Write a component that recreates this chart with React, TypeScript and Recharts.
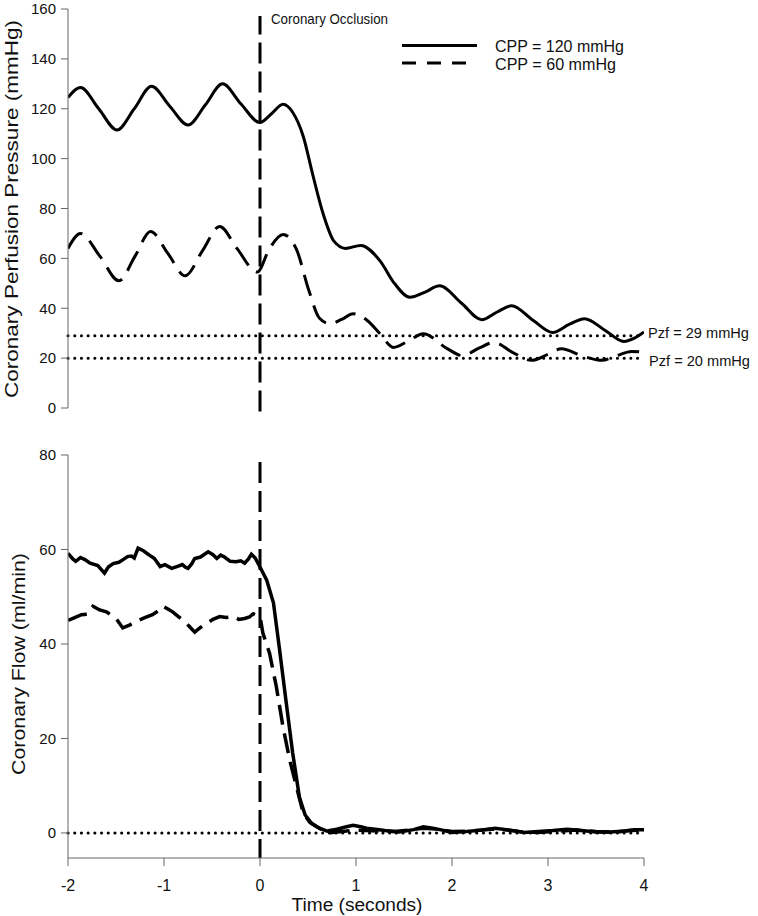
import { LineChart, Line, XAxis, YAxis, ReferenceLine } from 'recharts';

// top panel: coronary perfusion pressure (mmHg)
const cpp120Time = [-2, -1.87, -1.68, -1.49, -1.31, -1.13, -0.94, -0.75, -0.57, -0.39, -0.2, 0, 0.12, 0.24, 0.34, 0.45, 0.55, 0.66, 0.77, 0.89, 1.05, 1.25, 1.4, 1.56, 1.72, 1.87, 2.1, 2.31, 2.47, 2.62, 2.85, 3.05, 3.22, 3.38, 3.6, 3.79, 3.9, 4];
const cpp120Pressure = [124.5, 128.5, 120, 111.5, 120, 129, 121, 113.5, 121.5, 130, 122, 114.5, 118, 121.8, 118.6, 109, 93.5, 77.6, 66.9, 64, 65.2, 59, 50, 44.4, 46.5, 49, 42, 35.4, 38.5, 41, 35, 30.3, 33.5, 35.8, 31, 26.7, 28, 30.5];

const cpp60Time = [-2, -1.87, -1.67, -1.47, -1.3, -1.14, -0.96, -0.78, -0.6, -0.42, -0.24, -0.03, 0.1, 0.24, 0.38, 0.51, 0.62, 0.73, 0.85, 0.97, 1.12, 1.25, 1.39, 1.55, 1.7, 1.95, 2.11, 2.28, 2.44, 2.63, 2.83, 3, 3.14, 3.35, 3.56, 3.72, 3.87, 4];
const cpp60Pressure = [64, 70, 61, 51, 61, 70.8, 62, 53, 63, 72.8, 64, 54.5, 64, 69.6, 63.6, 47, 36, 33.8, 35.5, 37.8, 35, 29.8, 24.3, 27, 29.8, 23.8, 21, 24, 26.3, 22.3, 19.1, 21.5, 23.8, 21, 19.1, 21, 22.7, 22.3];

// bottom panel: coronary flow (ml/min)
const flow120Time = [-2, -1.95, -1.92, -1.87, -1.82, -1.77, -1.69, -1.62, -1.58, -1.53, -1.47, -1.43, -1.38, -1.34, -1.31, -1.27, -1.22, -1.18, -1.13, -1.1, -1.04, -0.99, -0.92, -0.85, -0.81, -0.78, -0.75, -0.71, -0.68, -0.62, -0.54, -0.49, -0.45, -0.41, -0.37, -0.31, -0.25, -0.2, -0.16, -0.12, -0.09, -0.05, 0, 0.07, 0.14, 0.2, 0.27, 0.34, 0.41, 0.47, 0.54, 0.62, 0.7, 0.8, 0.9, 0.97, 1.05, 1.11, 1.2, 1.3, 1.45, 1.6, 1.7, 1.8, 1.9, 2, 2.15, 2.3, 2.45, 2.6, 2.75, 2.9, 3.05, 3.2, 3.35, 3.5, 3.65, 3.8, 3.9, 4];
const flow120Value = [59.2, 58, 57.5, 58.3, 57.8, 57.1, 56.6, 55, 56.3, 57, 57.3, 57.8, 58.5, 58.6, 58.2, 60.3, 59.8, 59.2, 58.5, 58.1, 56.4, 56.8, 56, 56.5, 56.8, 56.3, 56, 57, 58.1, 58.4, 59.5, 58.9, 58.1, 58.8, 58.4, 57.5, 57.4, 57.6, 57.1, 58, 59, 58.2, 56.3, 53.5, 48.7, 39.4, 28.1, 17, 7.6, 3.8, 2, 1, 0.4, 0.8, 1.3, 1.6, 1.3, 1, 0.8, 0.5, 0.2, 0.7, 1.3, 1, 0.6, 0.1, 0.3, 0.6, 1, 0.6, 0.1, 0.3, 0.5, 0.8, 0.5, 0.2, 0.2, 0.4, 0.7, 0.7];

const flow60Time = [-2, -1.93, -1.86, -1.8, -1.74, -1.67, -1.6, -1.5, -1.43, -1.36, -1.29, -1.2, -1.12, -1.06, -1.01, -0.96, -0.91, -0.85, -0.8, -0.74, -0.68, -0.62, -0.56, -0.49, -0.42, -0.35, -0.28, -0.22, -0.16, -0.11, -0.07, -0.03, 0, 0.03, 0.1, 0.17, 0.24, 0.31, 0.38, 0.45, 0.52, 0.59, 0.66, 0.72, 0.8, 0.9, 0.97, 1.1, 1.25, 1.4, 1.55, 1.7, 1.85, 2, 2.2, 2.4, 2.55, 2.7, 2.9, 3.1, 3.3, 3.5, 3.7, 3.85, 4];
const flow60Value = [45, 45.6, 46.2, 46.3, 48, 47.2, 46.8, 45.4, 43.4, 44, 44.8, 45.6, 46.2, 47, 48, 47.4, 46.8, 45.8, 45, 43.8, 42.5, 43.5, 44.3, 45.2, 45.8, 45.6, 45.8, 45.2, 45.4, 45.7, 46.4, 46, 45.8, 42.3, 38, 31, 22.4, 15.4, 9.8, 4.2, 2.2, 1.3, 0.5, 0, 0.2, 0.4, 0.6, 0.5, 0.4, 0.3, 0.6, 1, 0.8, 0.3, 0.4, 0.8, 0.7, 0.3, 0.1, 0.4, 0.6, 0.3, 0.2, 0.5, 0.6];

const timeTicks = [-2, -1, 0, 1, 2, 3, 4];
const pressureTicks = [0, 20, 40, 60, 80, 100, 120, 140, 160];
const flowTicks = [0, 20, 40, 60, 80];
const zeroFlowPressures = [29, 20];

const toPoints = (ts: number[], vs: number[]) => ts.map((t, i) => ({ t, v: vs[i] }));

const cpp120Data = toPoints(cpp120Time, cpp120Pressure);
const cpp60Data = toPoints(cpp60Time, cpp60Pressure);
const flow120Data = toPoints(flow120Time, flow120Value);
const flow60Data = toPoints(flow60Time, flow60Value);

const axisGrey = '#666';
const tickStyle = { fontSize: 15, fill: '#111' };
const dotted = { stroke: '#000', strokeWidth: 3, strokeDasharray: '0.1 6.6', strokeLinecap: 'round' as const };
const occlusion = { stroke: '#000', strokeWidth: 3, strokeDasharray: '21 8' };

export default function App() {
  return (
    <div
      style={{
        position: 'absolute',
        left: 0,
        top: 0,
        width: 758,
        height: 916,
        background: '#fff',
        fontFamily: 'Arial, "Liberation Sans", sans-serif',
      }}
    >
      <div style={{ position: 'absolute', left: 0, top: 0 }}>
        <LineChart width={758} height={416} margin={{ top: 9, right: 114, bottom: 8, left: 8 }}>
          <XAxis dataKey="t" type="number" domain={[-2, 4]} ticks={timeTicks} allowDataOverflow hide />
          <YAxis
            type="number"
            domain={[0, 160]}
            ticks={pressureTicks}
            interval={0}
            width={60}
            tickSize={7}
            tickMargin={5}
            tick={tickStyle}
            axisLine={{ stroke: axisGrey }}
            tickLine={{ stroke: axisGrey }}
          />
          {zeroFlowPressures.map((p) => (
            <ReferenceLine key={p} y={p} {...dotted} />
          ))}
          <ReferenceLine
            segment={[{ x: 0, y: -13 }, { x: 0, y: 157.2 }]}
            ifOverflow="visible"
            {...occlusion}
          />
          <Line data={cpp120Data} dataKey="v" type="monotone" stroke="#000" strokeWidth={3} dot={false} isAnimationActive={false} />
          <Line
            data={cpp60Data}
            dataKey="v"
            type="monotone"
            stroke="#000"
            strokeWidth={3}
            strokeDasharray="22 10"
            dot={false}
            isAnimationActive={false}
          />
        </LineChart>
      </div>

      <div style={{ position: 'absolute', left: 0, top: 440 }}>
        <LineChart width={758} height={476} margin={{ top: 15, right: 114, bottom: 28, left: 8 }}>
          <XAxis
            dataKey="t"
            type="number"
            domain={[-2, 4]}
            ticks={timeTicks}
            interval={0}
            allowDataOverflow
            height={30}
            tickSize={8}
            tickMargin={14}
            tick={{ fontSize: 16, fill: '#111' }}
            axisLine={{ stroke: axisGrey }}
            tickLine={{ stroke: axisGrey }}
          />
          <YAxis
            type="number"
            domain={[-5.3, 80]}
            ticks={flowTicks}
            interval={0}
            allowDataOverflow
            width={60}
            tickSize={7}
            tickMargin={5}
            tick={tickStyle}
            axisLine={{ stroke: axisGrey }}
            tickLine={{ stroke: axisGrey }}
          />
          <ReferenceLine y={0} {...dotted} />
          <ReferenceLine
            segment={[{ x: 0, y: 78.5 }, { x: 0, y: -5.3 }]}
            ifOverflow="visible"
            {...occlusion}
          />
          <Line data={flow120Data} dataKey="v" type="linear" stroke="#000" strokeWidth={3.5} dot={false} isAnimationActive={false} />
          <Line
            data={flow60Data}
            dataKey="v"
            type="linear"
            stroke="#000"
            strokeWidth={3.5}
            strokeDasharray="20 9"
            dot={false}
            isAnimationActive={false}
          />
        </LineChart>
      </div>

      {/* labels and legend on top */}
      <svg width={758} height={916} style={{ position: 'absolute', left: 0, top: 0, pointerEvents: 'none' }}>
        <g fill="#111" fontFamily='Arial, "Liberation Sans", sans-serif'>
          <text transform="translate(11,209) rotate(-90)" textAnchor="middle" dominantBaseline="central" fontSize={19} textLength={378} lengthAdjust="spacingAndGlyphs">
            Coronary Perfusion Pressure (mmHg)
          </text>
          <text transform="translate(18,664) rotate(-90)" textAnchor="middle" dominantBaseline="central" fontSize={19} textLength={222} lengthAdjust="spacingAndGlyphs">
            Coronary Flow (ml/min)
          </text>
          <text x={357} y={905} textAnchor="middle" dominantBaseline="central" fontSize={18} textLength={131} lengthAdjust="spacingAndGlyphs">
            Time (seconds)
          </text>
          <text x={271} y={18} dominantBaseline="central" fontSize={15} textLength={117} lengthAdjust="spacingAndGlyphs">
            Coronary Occlusion
          </text>
          <text x={495} y={46} dominantBaseline="central" fontSize={17} textLength={129} lengthAdjust="spacingAndGlyphs">
            CPP = 120 mmHg
          </text>
          <text x={495} y={64} dominantBaseline="central" fontSize={17} textLength={121} lengthAdjust="spacingAndGlyphs">
            CPP = 60 mmHg
          </text>
          <text x={648} y={332} dominantBaseline="central" fontSize={15} textLength={101} lengthAdjust="spacingAndGlyphs">
            Pzf = 29 mmHg
          </text>
          <text x={649} y={360} dominantBaseline="central" fontSize={15} textLength={101} lengthAdjust="spacingAndGlyphs">
            Pzf = 20 mmHg
          </text>
        </g>
        <line x1={402} x2={477} y1={45.5} y2={45.5} stroke="#000" strokeWidth={3} />
        <line x1={402} x2={468} y1={63} y2={63} stroke="#000" strokeWidth={3} strokeDasharray="14 11" />
      </svg>
    </div>
  );
}
